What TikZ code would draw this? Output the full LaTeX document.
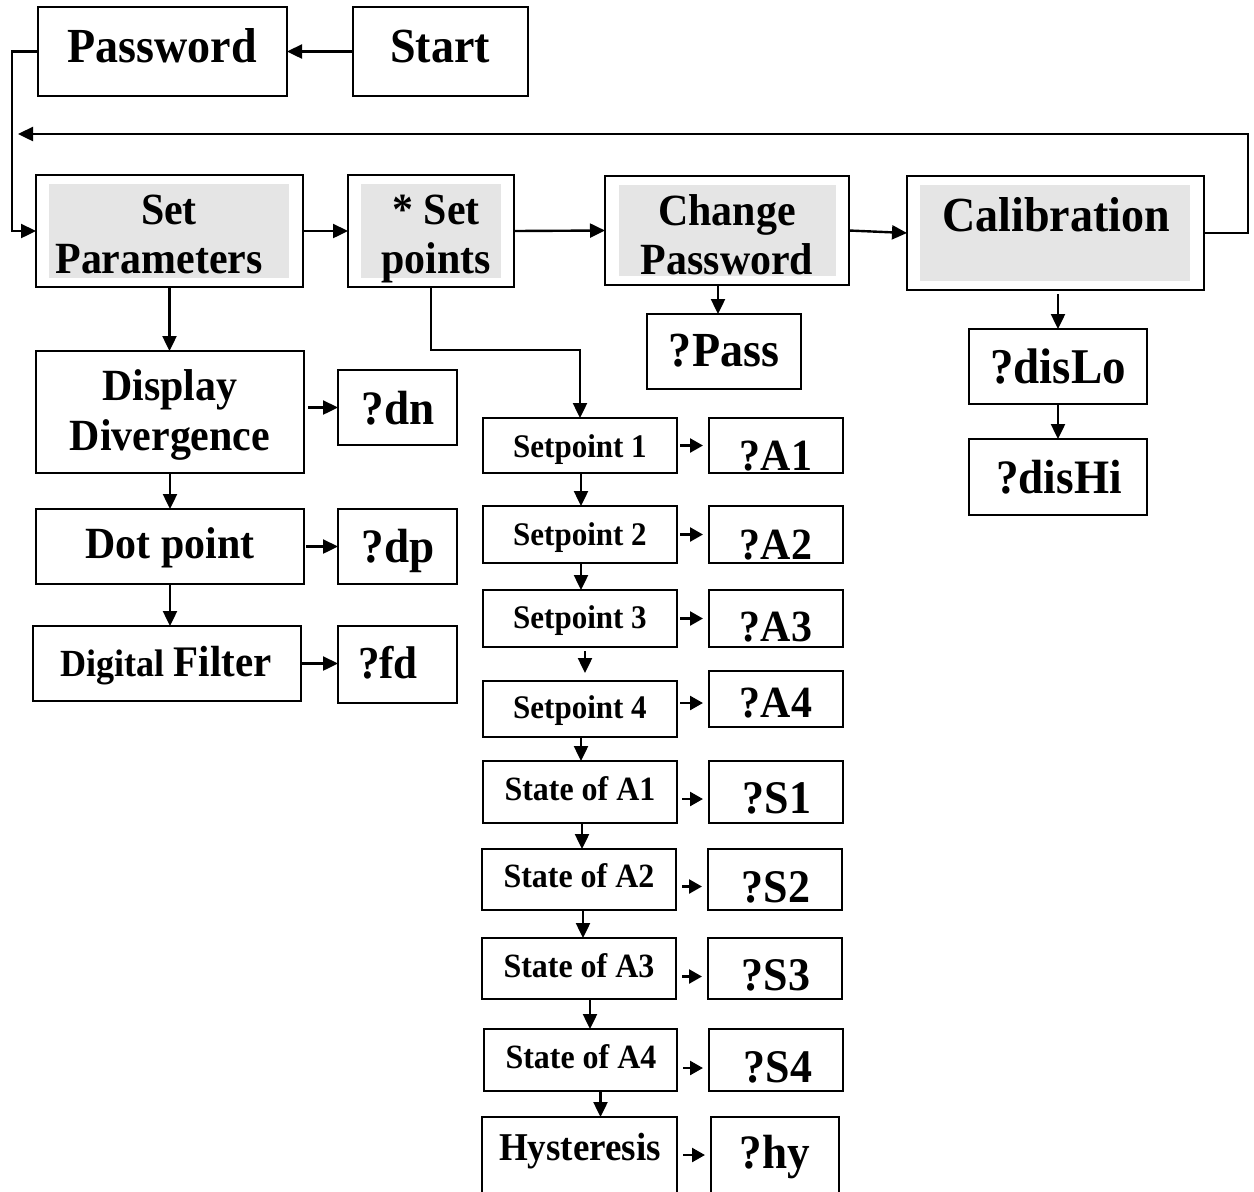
\documentclass[tikz,border=0pt]{standalone}
\usepackage{fontspec}
\setmainfont{Liberation Serif}[FakeStretch=0.94]
\usetikzlibrary{arrows.meta}
\newcommand\fsz[1]{\fontsize{#1pt}{#1pt}\selectfont\bfseries}
\newcommand\bx[6][]{\pgfmathsetmacro\bw{(#5-#3)*0.5}\pgfmathsetmacro\bh{(#6-#4)*0.5}%
  \node[box,#1,minimum width=\bw pt,minimum height=\bh pt] (#2) at ({(#3+#5)/2},{(#4+#6)/2}) {};}
\begin{document}
\begin{tikzpicture}[x=0.5pt,y=-0.5pt,
  box/.style={draw,line width=1pt,inner sep=0pt,outer sep=0pt},
  arr/.style={line width=1.2pt,-{Triangle[length=7.5pt,width=7pt]}},
  arrs/.style={line width=1.2pt,-{Triangle[length=6.5pt,width=7pt]}},
  txt/.style={inner sep=0pt,anchor=base},
  shade/.style={fill=black!10}]
\useasboundingbox (0,0) rectangle (1254,1191);

% boxes
\bx{pw}{38}{7}{287}{96}
\bx{start}{353}{7}{528}{96}
\bx{spar}{36}{175}{303}{287}
\bx{spts}{348}{175}{514}{287}
\bx{chpw}{605}{176}{849}{285}
\bx{cal}{907}{176}{1204}{290}
\bx{dd}{36}{351}{304}{473}
\bx{dn}{338}{370}{457}{445}
\bx{dot}{36}{509}{304}{584}
\bx{dp}{338}{509}{457}{584}
\bx{df}{33}{626}{301}{701}
\bx{fd}{338}{626}{457}{703}
\bx{pass}{647}{314}{801}{389}
\bx{dislo}{969}{329}{1147}{404}
\bx{dishi}{969}{439}{1147}{515}
\bx{spa}{483}{418}{677}{473}
\bx{aa}{709}{418}{843}{473}
\bx{spb}{483}{506}{677}{563}
\bx{ab}{709}{506}{843}{563}
\bx{spc}{483}{590}{677}{647}
\bx{ac}{709}{590}{843}{647}
\bx{spd}{483}{681}{677}{737}
\bx{ad}{709}{671}{843}{727}
\bx{sta}{483}{761}{677}{823}
\bx{sa}{709}{761}{843}{823}
\bx{stb}{482}{849}{676}{910}
\bx{sb}{708}{849}{842}{910}
\bx{stc}{482}{938}{676}{999}
\bx{sc}{708}{938}{842}{999}
\bx{std}{484}{1029}{677}{1091}
\bx{sd}{709}{1029}{843}{1091}
\bx{hy}{482}{1117}{677}{1215}
\bx{hyq}{711}{1117}{839}{1215}

% gray inner panels
\fill[shade] (49,184) rectangle (289,278);
\fill[shade] (361,184) rectangle (501,278);
\fill[shade] (619,185) rectangle (836,276);
\fill[shade] (920,185) rectangle (1190,281);

% texts
\node[txt,font=\fsz{24.5}] (tpw) at (162,62) {Password};
\node[txt,font=\fsz{24.5}] (tstart) at (440,62) {Start};
\node[txt,font=\fsz{22.3}] (tspar1) at (169,224) {Set};
\node[txt,font=\fsz{22.3}] (tspar2) at (159,273) {Parameters};
\node[txt,font=\fsz{22.3}] (tspts1) at (436,224) {* Set};
\node[txt,font=\fsz{22.3}] (tspts2) at (436,273) {points};
\node[txt,font=\fsz{22.3}] (tchpw1) at (727,225) {Change};
\node[txt,font=\fsz{22.3}] (tchpw2) at (727,274) {Password};
\node[txt,font=\fsz{24.5}] (tcal) at (1056,231) {Calibration};
\node[txt,font=\fsz{22.3}] (tdd1) at (170,400) {Display};
\node[txt,font=\fsz{22.3}] (tdd2) at (170,450) {Divergence};
\node[txt,font=\fsz{22.3}] (tdot) at (170,558) {Dot point};
\node[txt] (tdf) at (166,676) {\fsz{19.2}Digital \fsz{21.8}Filter};
\node[txt,font=\fsz{24}] (tdn) at (398,424) {?dn};
\node[txt,font=\fsz{24}] (tdp) at (398,562) {?dp};
\node[txt,font=\fsz{22.9}] (tfd) at (388,678) {?fd};
\node[txt,font=\fsz{24.5}] (tpass) at (724,366) {?Pass};
\node[txt,font=\fsz{25}] (tdislo) at (1058,383) {?disLo};
\node[txt,font=\fsz{24}] (tdishi) at (1059,493) {?disHi};
\node[txt,font=\fsz{16.5}] (tspa) at (580,457) {Setpoint 1};
\node[txt,font=\fsz{16.5}] (tspb) at (580,545) {Setpoint 2};
\node[txt,font=\fsz{16.5}] (tspc) at (580,628) {Setpoint 3};
\node[txt,font=\fsz{16.5}] (tspd) at (580,718) {Setpoint 4};
\node[txt,font=\fsz{22.3}] (taa) at (776,470) {?A1};
\node[txt,font=\fsz{22.3}] (tab) at (776,559) {?A2};
\node[txt,font=\fsz{22.3}] (tac) at (776,641) {?A3};
\node[txt,font=\fsz{22.3}] (tad) at (776,717) {?A4};
\node[txt,font=\fsz{17}] (tsta) at (580,800) {State of A1};
\node[txt,font=\fsz{17}] (tstb) at (579,887) {State of A2};
\node[txt,font=\fsz{17}] (tstc) at (579,977) {State of A3};
\node[txt,font=\fsz{17}] (tstd) at (581,1068) {State of A4};
\node[txt,font=\fsz{23.4}] (tsa) at (777,813) {?S1};
\node[txt,font=\fsz{23.4}] (tsb) at (776,902) {?S2};
\node[txt,font=\fsz{23.4}] (tsc) at (776,990) {?S3};
\node[txt,font=\fsz{23.4}] (tsd) at (778,1082) {?S4};
\node[txt,font=\fsz{19.7}] (thy) at (580,1160) {Hysteresis};
\node[txt,font=\fsz{24}] (thyq) at (775,1168) {?hy};

% main connectors
\coordinate (lp) at (12,231);
\coordinate (fb) at (18,134);
\coordinate (jog) at (580,350);
\draw[arr] (start.west) -- (pw.east);
\draw[arr] (pw.west) -| (lp) -- (spar.west);
\draw[arr] (cal.east) -- ++(44,0) |- (fb);
\draw[arr] (spar.east) -- (spts.west);
\draw[arr] (spts.east) -- (chpw.west);
\draw[arr] (chpw.east) -- (cal.west);
\draw[arr] (spar.south) -- (spar.south |- dd.north);
\draw[arr] (dd.south) -- (dot.north);
\draw[arr] (dot.south) -- (dot.south |- df.north);
\draw[arr] ([xshift=2pt]dd.east |- dn.west) -- (dn.west);
\draw[arr] ([xshift=1pt]dot.east) -- (dp.west);
\draw[arr] (df.east) -- (df.east -| fd.west);
\draw[arr] ([xshift=-3pt]pass.north |- chpw.south) -- ([xshift=-3pt]pass.north);
\draw[arr] ([yshift=-2pt]dislo.north |- cal.south) -- (dislo.north);
\draw[arr] (dislo.south) -- (dishi.north);
\draw[arr] (spts.south) |- (jog) -- (jog |- spa.north);

% vertical chain
\draw[arr] ([xshift=0.5pt]spa.south) -- ([xshift=0.5pt]spa.south |- spb.north);
\draw[arr] ([xshift=0.5pt]spb.south) -- ([xshift=0.5pt]spb.south |- spc.north);
\draw[arr] ([xshift=2.5pt,yshift=-2pt]spc.south) -- ([xshift=2.5pt,yshift=4pt]spc.south |- spd.north);
\draw[arr] ([xshift=0.5pt]spd.south) -- ([xshift=0.5pt]spd.south |- sta.north);
\draw[arr] ([xshift=1pt]sta.south) -- ([xshift=1pt]sta.south |- stb.north);
\draw[arr] ([xshift=2pt]stb.south) -- ([xshift=2pt]stb.south |- stc.north);
\draw[arr] ([xshift=5.5pt]stc.south) -- ([xshift=5.5pt]stc.south |- std.north);
\draw[arr] ([xshift=10pt]std.south) -- ([xshift=10pt]std.south |- hy.north);

% side arrows
\draw[arrs] ([xshift=1.5pt]spa.east) -- ([xshift=-3pt]spa.east -| aa.west);
\draw[arrs] ([xshift=1.5pt]spb.east) -- ([xshift=-3pt]spb.east -| ab.west);
\draw[arrs] ([xshift=1.5pt]spc.east) -- ([xshift=-3pt]spc.east -| ac.west);
\draw[arrs] ([xshift=1.5pt,yshift=3pt]spd.east) -- ([xshift=-3pt,yshift=3pt]spd.east -| ad.west);
\draw[arrs] ([xshift=2.5pt,yshift=-3.5pt]sta.east) -- ([xshift=-3pt,yshift=-3.5pt]sta.east -| sa.west);
\draw[arrs] ([xshift=3pt,yshift=-3.5pt]stb.east) -- ([xshift=-3pt,yshift=-3.5pt]stb.east -| sb.west);
\draw[arrs] ([xshift=3pt,yshift=-4pt]stc.east) -- ([xshift=-3pt,yshift=-4pt]stc.east -| sc.west);
\draw[arrs] ([xshift=3pt,yshift=-4pt]std.east) -- ([xshift=-3pt,yshift=-4pt]std.east -| sd.west);
\draw[arrs] ([xshift=3pt,yshift=5.5pt]hy.east) -- ([xshift=-3pt,yshift=5.5pt]hy.east -| hyq.west);
\end{tikzpicture}
\end{document}
